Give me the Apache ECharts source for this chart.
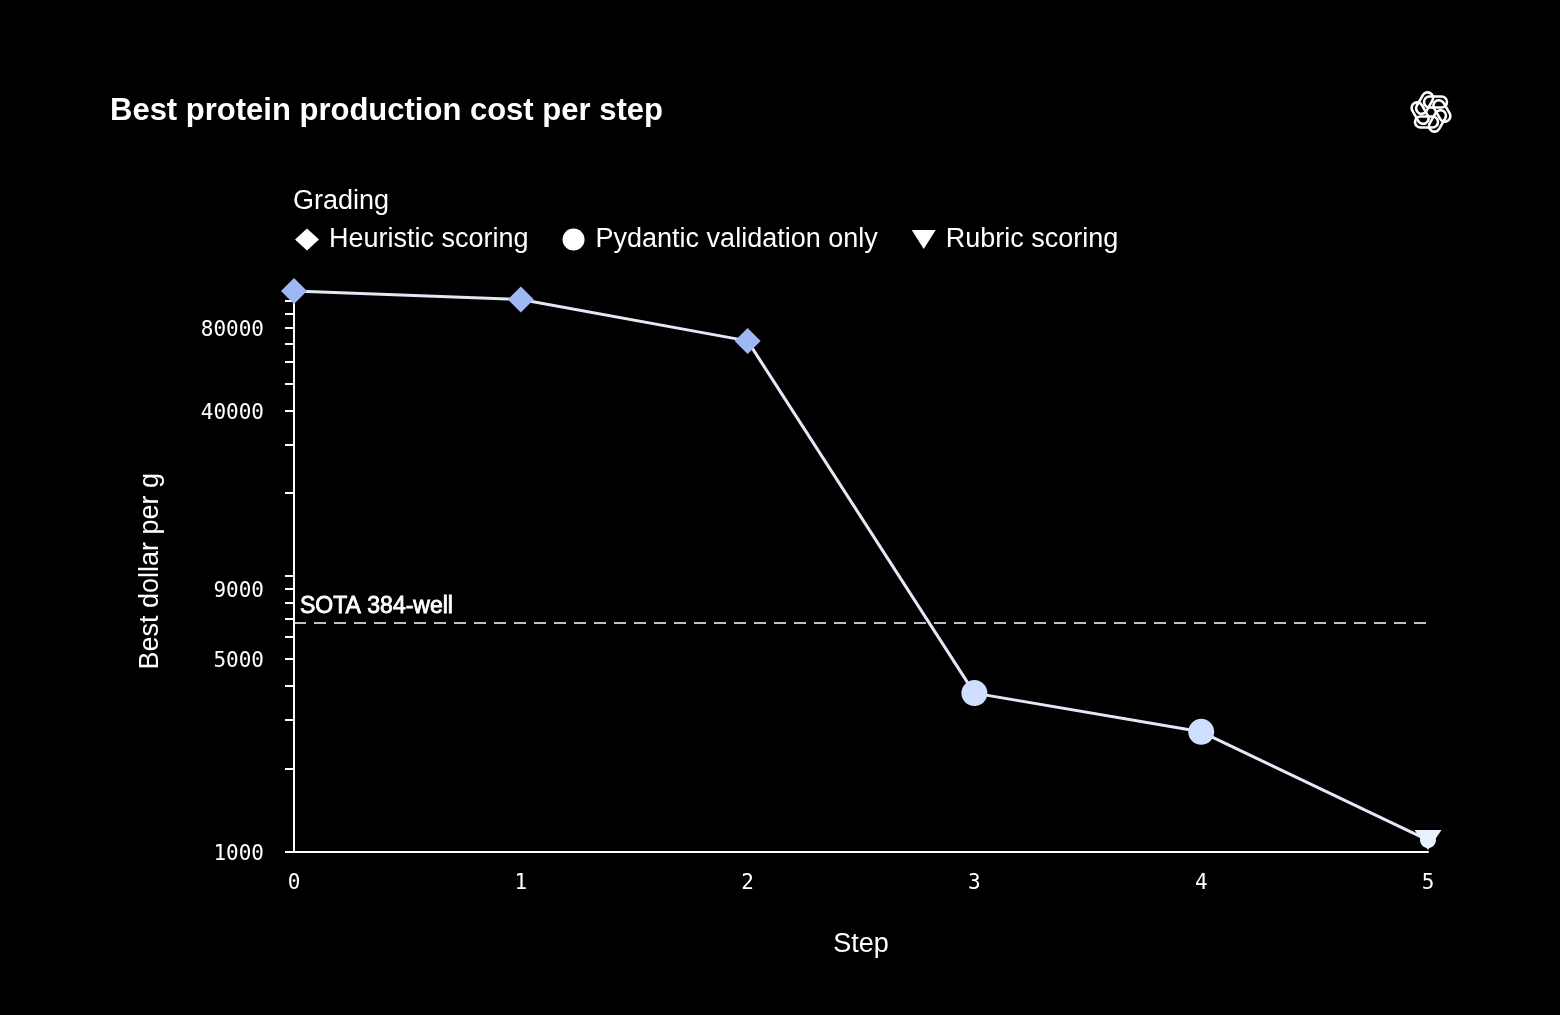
<!DOCTYPE html>
<html>
<head>
<meta charset="utf-8">
<script src="https://cdn.jsdelivr.net/npm/echarts@6/dist/echarts.min.js"></script>
<style>html,body{margin:0;padding:0;background:#000;}#c{width:1560px;height:1015px;}</style>
</head>
<body>
<div id="c"></div>
<script>
const steps = [0, 1, 2, 3, 4, 5];
const cost = [108500, 101000, 71500, 3760, 2720, 1100];
const grading = ['Heuristic scoring', 'Heuristic scoring', 'Heuristic scoring', 'Pydantic validation only', 'Pydantic validation only', 'Rubric scoring'];
const gradingNames = ['Heuristic scoring', 'Pydantic validation only', 'Rubric scoring'];
const sotaValue = 6750;
const sotaLabel = 'SOTA 384-well';
const yTicks = [1000,2000,3000,4000,5000,6000,7000,8000,9000,10000,20000,30000,40000,50000,60000,70000,80000,90000,100000];
const yLabels = [1000, 5000, 9000, 40000, 80000];

const markerColor = {'Heuristic scoring': '#9fb7f4', 'Pydantic validation only': '#cfdeff', 'Rubric scoring': '#e9f0ff'};
const markerSymbol = {'Heuristic scoring': 'diamond', 'Pydantic validation only': 'circle', 'Rubric scoring': 'path://M0,0 L20,0 L10,16 Z'};
const markerSize = {'Heuristic scoring': 26, 'Pydantic validation only': 26, 'Rubric scoring': [27, 20]};

const chart = echarts.init(document.getElementById('c'));

const scatterSeries = gradingNames.map(g => ({
  name: g,
  type: 'scatter',
  symbol: markerSymbol[g],
  symbolSize: markerSize[g],
  itemStyle: {color: markerColor[g], opacity: 1},
  z: 5,
  data: steps.map((s, i) => grading[i] === g ? [s, cost[i]] : null).filter(d => d)
}));

function petals() {
  const ch = [];
  for (let k = 0; k < 6; k++) {
    ch.push({
      type: 'rect',
      rotation: k * Math.PI / 3,
      shape: {x: -7, y: -15.5, width: 23, height: 11, r: 5.5},
      style: {fill: null, stroke: '#fff', lineWidth: 2.6}
    });
  }
  return ch;
}

const lineData = steps.map((s, i) => {
  const d = {value: [s, cost[i]]};
  if (i === steps.length - 1) {
    d.symbol = 'circle';
    d.symbolSize = 16;
    d.itemStyle = {color: '#e9f0ff'};
  }
  return d;
});

chart.setOption({
  backgroundColor: '#000',
  animation: false,
  title: {
    text: 'Best protein production cost per step',
    left: 105, top: 91,
    textStyle: {color: '#fff', fontFamily: 'Liberation Sans, Arial, sans-serif', fontSize: 31, fontWeight: 'bold'}
  },
  legend: {
    left: 290, top: 221,
    data: gradingNames.map(g => ({name: g, itemStyle: {color: '#fff'}})),
    itemWidth: 24, itemHeight: 22, itemGap: 34,
    textStyle: {color: '#fff', fontFamily: 'Liberation Sans, Arial, sans-serif', fontSize: 27, padding: [0, 0, 0, 5]}
  },
  grid: {left: 294, right: 132, top: 291, bottom: 163.5, containLabel: false},
  xAxis: {
    type: 'value', min: 0, max: 5, interval: 1,
    name: 'Step', nameLocation: 'middle', nameGap: 80,
    nameTextStyle: {color: '#fff', fontFamily: 'Liberation Sans, Arial, sans-serif', fontSize: 27},
    axisLine: {lineStyle: {color: '#fff', width: 2}},
    axisTick: {show: false},
    splitLine: {show: false},
    axisLabel: {color: '#fff', fontFamily: 'DejaVu Sans Mono, monospace', fontSize: 21, margin: 22}
  },
  yAxis: {
    type: 'log', logBase: 10, min: 1000, max: 108500,
    name: 'Best dollar per g', nameLocation: 'middle', nameGap: 130,
    nameTextStyle: {color: '#fff', fontFamily: 'Liberation Sans, Arial, sans-serif', fontSize: 27},
    axisLine: {show: true, lineStyle: {color: '#fff', width: 2}},
    axisTick: {show: true, length: 9, customValues: yTicks, lineStyle: {color: '#fff', width: 2}},
    splitLine: {show: false},
    minorTick: {show: false},
    axisLabel: {color: '#fff', fontFamily: 'DejaVu Sans Mono, monospace', fontSize: 21, margin: 30, verticalAlign: 'top', lineHeight: 6, customValues: yLabels, formatter: v => String(Math.round(v))}
  },
  graphic: [
    {type: 'text', left: 293, top: 188, style: {text: 'Grading', fill: '#fff', font: '27px "Liberation Sans", Arial, sans-serif'}},
    {type: 'group', x: 1431, y: 112, children: petals()}
  ],
  series: [
    {
      name: 'line', type: 'line', data: lineData,
      symbol: 'none', lineStyle: {color: '#e3e8f6', width: 3}, z: 3,
      markLine: {
        silent: true, symbol: 'none',
        lineStyle: {color: '#fff', type: [12, 8], width: 1.5},
        label: {show: true, position: 'insideStartTop', formatter: sotaLabel, color: '#fff', fontFamily: 'Liberation Sans, Arial, sans-serif', fontSize: 23, distance: [6, 5], textBorderColor: '#fff', textBorderWidth: 0.8},
        data: [{yAxis: sotaValue}]
      }
    }
  ].concat(scatterSeries)
});
</script>
</body>
</html>
